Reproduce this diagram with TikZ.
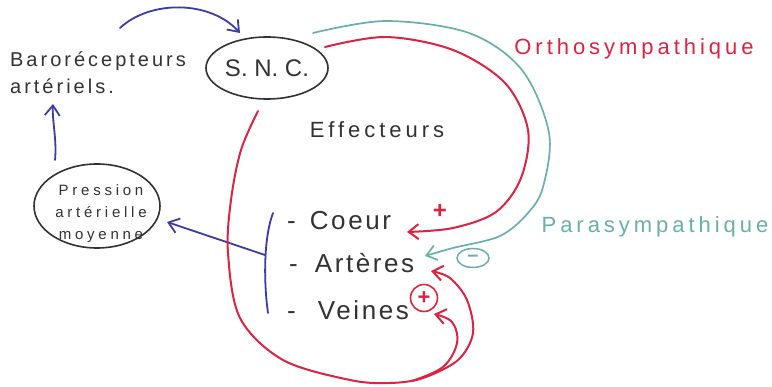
\documentclass[tikz,border=0pt]{standalone}
\usepackage{fontspec}
\setmainfont{Liberation Sans}
\newfontfamily\handA[LetterSpace=18]{Liberation Sans}
\newfontfamily\handB[LetterSpace=10]{Liberation Sans}
\newfontfamily\handC[LetterSpace=15]{Liberation Sans}
\newfontfamily\handD[LetterSpace=25]{Liberation Sans}
\usetikzlibrary{shapes.geometric,arrows.meta,calc}
\definecolor{ink}{RGB}{50,50,50}
\definecolor{penred}{RGB}{220,35,65}
\definecolor{penteal}{RGB}{105,175,170}
\definecolor{penblue}{RGB}{60,60,165}
\begin{document}
\begin{tikzpicture}[x=1pt,y=-1pt,
  ell/.style={ellipse, draw=ink, line width=1.6pt, inner sep=0pt},
  txt/.style={text=ink, inner sep=0pt},
  barb/.style={-{Straight Barb[length=10pt,width=15pt]}},
  redpen/.style={draw=penred, line width=2pt, line cap=round},
  tealpen/.style={draw=penteal, line width=1.7pt, line cap=round},
  bluepen/.style={draw=penblue, line width=1.8pt, line cap=round},
]
\useasboundingbox[fill=white] (0,0) rectangle (772,387);

% nodes
\node[ell, minimum width=122pt, minimum height=62pt, text=ink, font=\fontsize{24}{24}\selectfont] (snc) at (267,68) {S. N. C.};
\node[txt, align=left, font=\handC\fontsize{20}{27}\selectfont] (baro) at (98,73) {Barorécepteurs\\artériels.};
\node[txt, font=\handA\fontsize{22}{22}\selectfont] (eff) at (377,130) {Effecteurs};
\node[txt, anchor=base west, font=\handB\fontsize{26}{26}\selectfont] (coeur) at (287,230) {-\hspace{14pt}Coeur};
\node[txt, anchor=base west, font=\handB\fontsize{26}{26}\selectfont] (art) at (289,273) {-\hspace{17pt}Artères};
\node[txt, anchor=base west, font=\handB\fontsize{26}{26}\selectfont] (veines) at (287,320) {-\hspace{22pt}Veines};
\node[ell, minimum width=126pt, minimum height=84pt] (pam) at (97,206) {};
\node[txt, align=center, font=\handD\fontsize{15}{22}\selectfont] (pamtxt) at (101,214) {Pression\\artérielle\\moyenne};
\node[txt, anchor=base, text=penred, font=\handA\fontsize{22}{22}\selectfont] (ortho) at (634,55) {Orthosympathique};
\node[txt, anchor=base, text=penteal, font=\handA\fontsize{22}{22}\selectfont] (para) at (655,233) {Parasympathique};
\node[txt, text=penred, font=\bfseries\fontsize{24}{24}\selectfont] (plusA) at (440,211) {+};
\node[circle, draw=penred, line width=1.6pt, minimum size=27pt, inner sep=0pt, text=penred, font=\bfseries\fontsize{22}{22}\selectfont] (plusB) at (424,298) {+};
\node[ellipse, draw=penteal, line width=1.5pt, minimum width=32pt, minimum height=19pt, inner sep=0pt, text=penteal, font=\bfseries\fontsize{20}{20}\selectfont] (minus) at (473,258) {–};

% coordinates
\coordinate (sncR) at ([shift={(58,-21)}]snc.center);
\coordinate (sncT) at ([shift={(46,-35)}]snc.center);
\coordinate (sncB) at ([shift={(-9,43)}]snc.center);
\coordinate (tipC) at (407,232);
\coordinate (tipP) at (425,256);
\coordinate (tipA) at (431,271);
\coordinate (tipV) at (434,314);
\coordinate (branch) at (412,381);
\coordinate (baroTop) at ([shift={(22,-45)}]baro.center);
\coordinate (baroBot) at ([shift={(-45,31)}]baro.center);
\coordinate (pamTop) at ([shift={(-42,-46)}]pam.center);
\coordinate (pamTip) at ([shift={(70,16)}]pam.center);
\coordinate (brkT) at ([shift={(-14,-17)}]coeur.base west);
\coordinate (brkB) at ([shift={(-19,-7)}]veines.base west);
\coordinate (brkM) at (265,255);

% blue connectors
\draw[bluepen, barb] (baroTop) .. controls (150,0) and (210,0) .. ([shift={(-27,-35)}]snc.center);
\draw[bluepen, barb] (pamTop) .. controls (57,140) and (52,120) .. (baroBot);
\draw[bluepen] (brkT) .. controls (263,240) and (264,285) .. (brkB);
\draw[bluepen, barb] (brkM) -- (pamTip);

% orthosympathique
\draw[redpen, barb] plot[smooth, tension=0.55] coordinates {(sncR) (386,37) (453,50) (505,83) (528,130) (521,178) (496,212) (453,228) (tipC)};
% parasympathique
\draw[tealpen, barb] plot[smooth, tension=0.55] coordinates {(sncT) (386,21) (469,33) (522,70) (549,133) (543,187) (528,213) (500,236) (453,248) (tipP)};
% big red loop
\draw[redpen, barb] plot[smooth, tension=0.55] coordinates {(sncB) (241,150) (231,200) (228,253) (240,318) (283,360) (350,380) (390,383) (423,378) (458,360) (473,333) (467,300) (450,278) (tipA)};
\draw[redpen, barb] plot[smooth, tension=0.6] coordinates {(branch) (443,367) (457,343) (452,322) (tipV)};
\end{tikzpicture}
\end{document}
